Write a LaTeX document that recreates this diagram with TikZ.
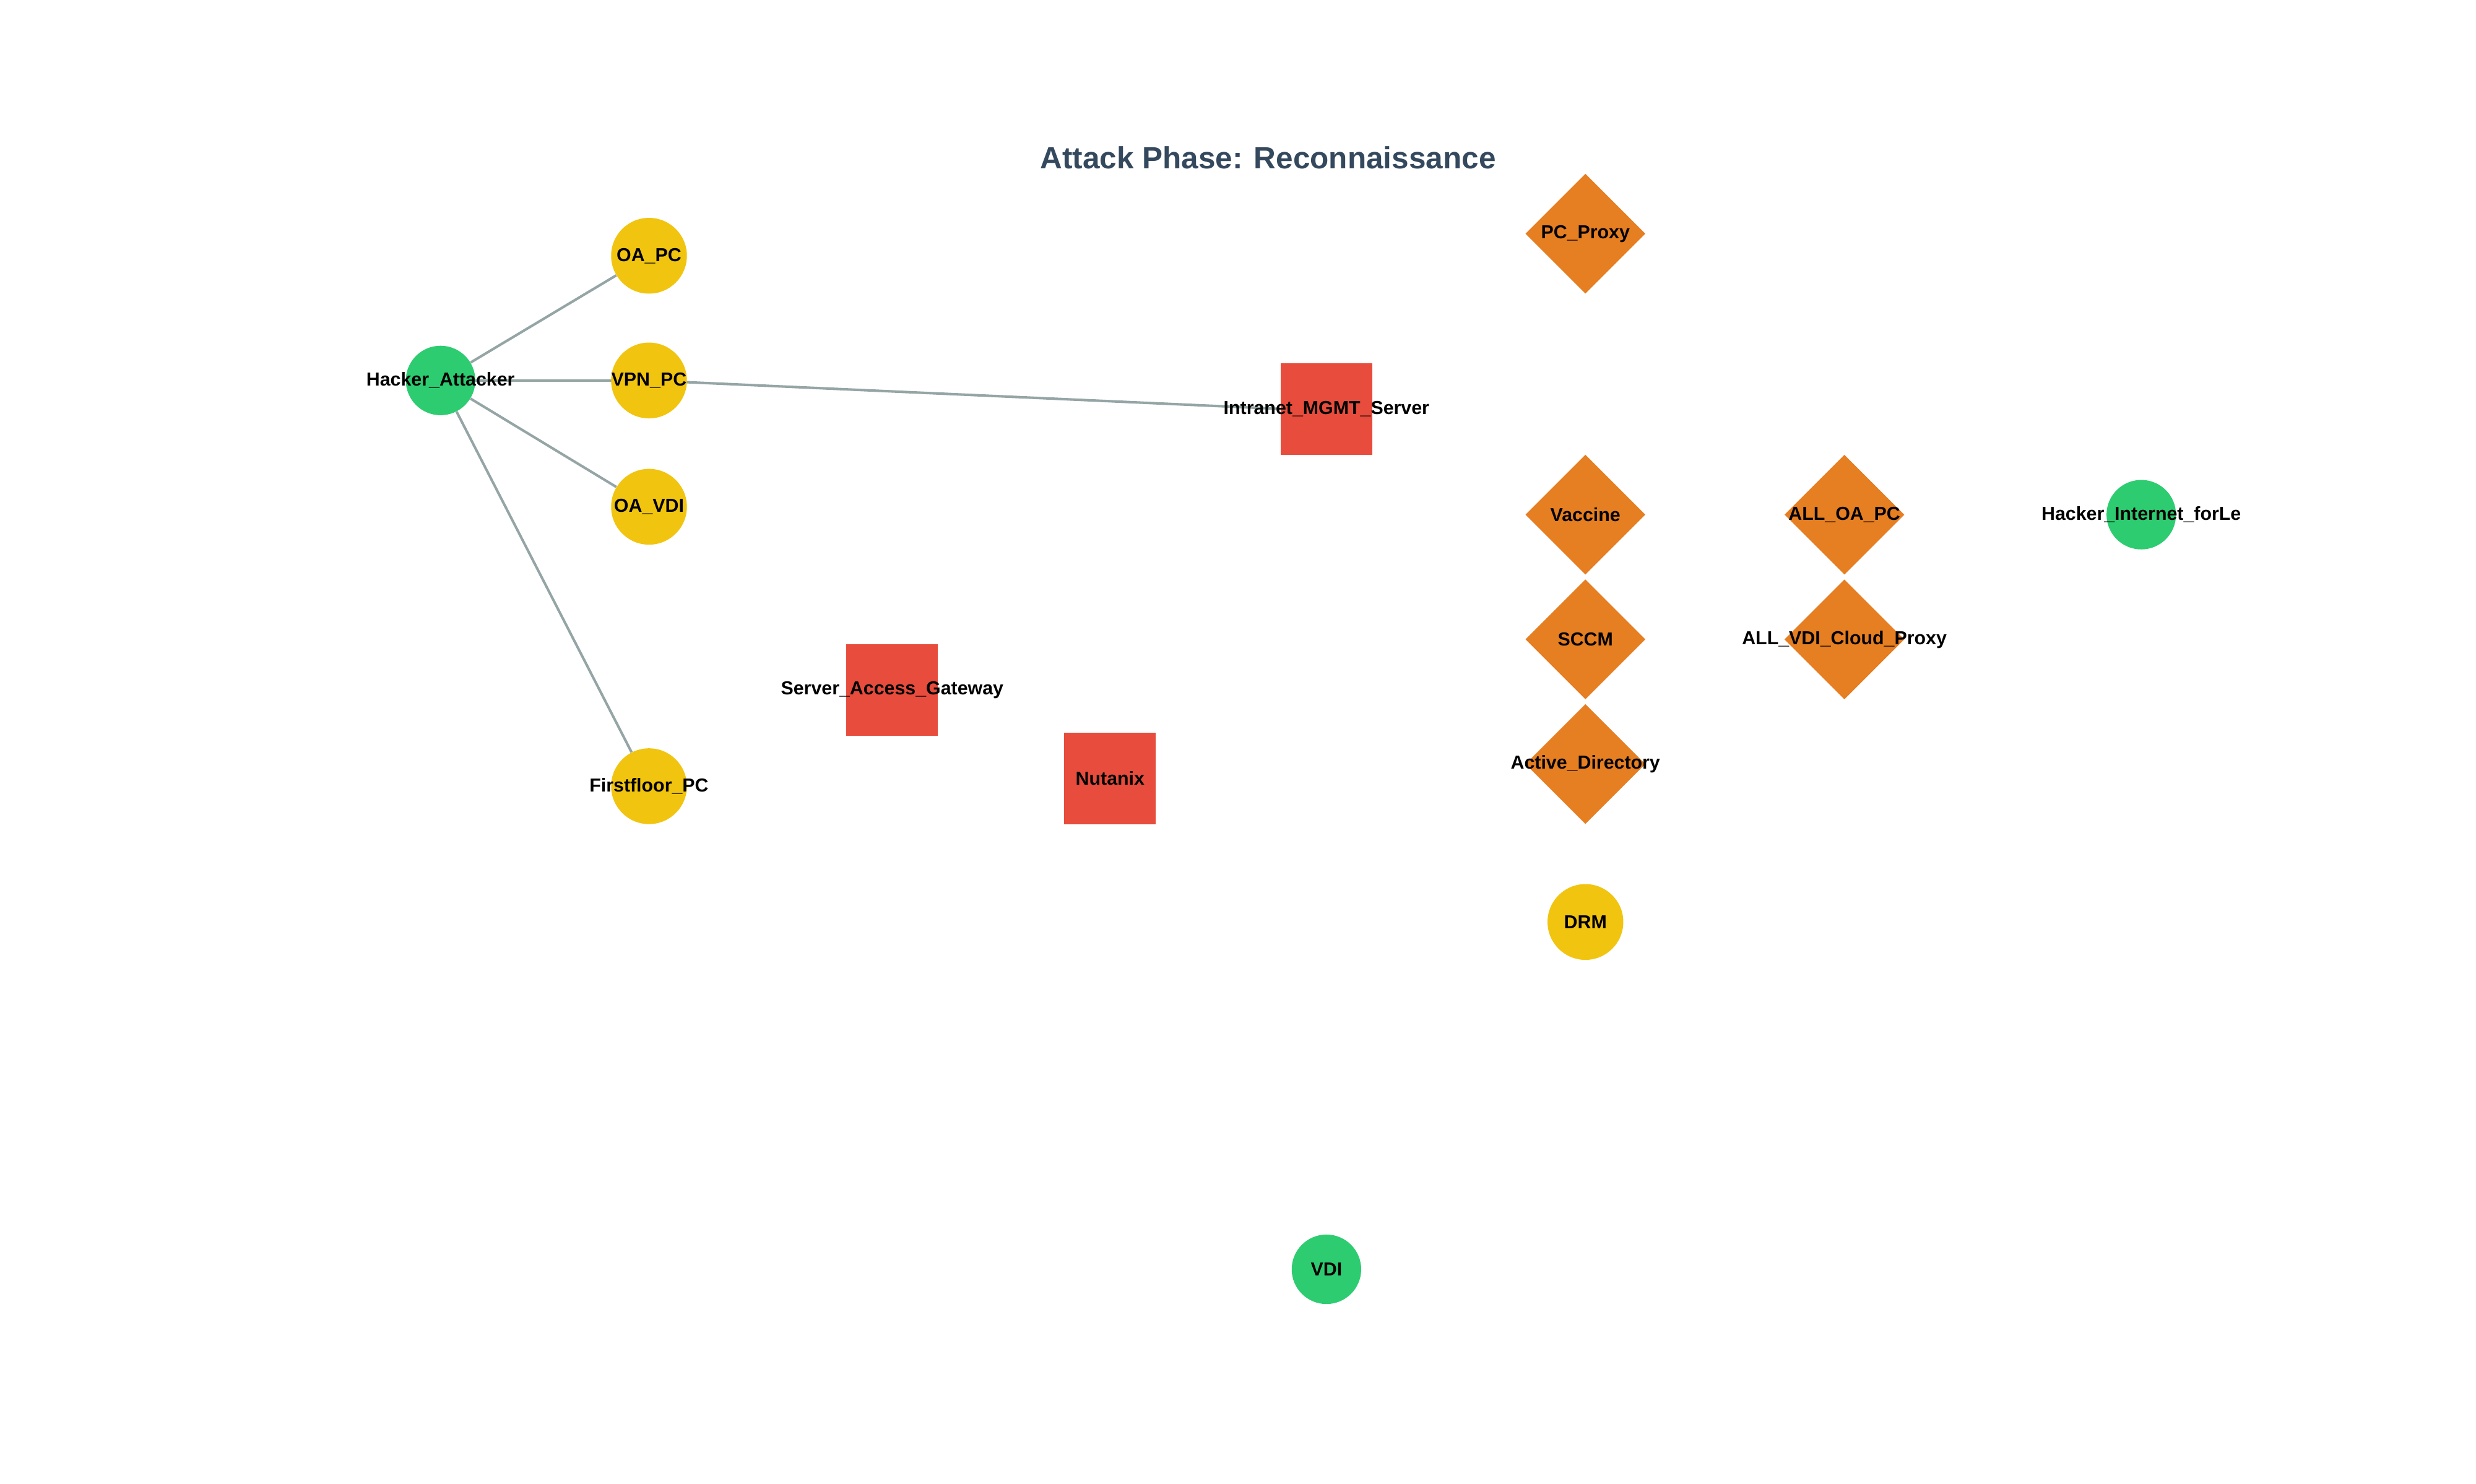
\documentclass[tikz,border=0pt]{standalone}
\usepackage{fontspec}
\setmainfont{Liberation Sans}
\usetikzlibrary{shapes.geometric,backgrounds}
\definecolor{cy}{HTML}{F1C40F}
\definecolor{cg}{HTML}{2ECC71}
\definecolor{cr}{HTML}{E74C3C}
\definecolor{co}{HTML}{E67E22}
\definecolor{ce}{HTML}{95A5A6}
\definecolor{ct}{HTML}{34495E}
\tikzset{
  lbl/.style={font=\bfseries\fontsize{11.9}{13}\selectfont, text=black},
  yc/.style={circle, fill=cy, minimum size=48pt, inner sep=0pt},
  gc/.style={circle, fill=cg, minimum size=44pt, inner sep=0pt},
  rs/.style={rectangle, fill=cr, minimum size=58pt, inner sep=0pt},
  od/.style={diamond, fill=co, minimum size=76pt, inner sep=0pt},
  edge/.style={draw=ce, line width=1.6pt},
}
\begin{document}
\begin{tikzpicture}[x=1pt,y=-1pt]
\useasboundingbox (0,0) rectangle (1568,940);
\node[font=\bfseries\fontsize{19.4}{22}\selectfont, text=ct] (title) at (803,100) {Attack Phase: Reconnaissance};
\node[yc] (oapc) at (411,162) {};
\node[gc] (hack) at (279,241) {};
\node[yc] (vpn) at (411,241) {};
\node[yc] (oavdi) at (411,321) {};
\node[yc] (ff) at (411,498) {};
\node[rs] (intra) at (840,259) {};
\node[rs] (sag) at (565,437) {};
\node[rs] (nut) at (703,493) {};
\node[od] (pcp) at (1004,148) {};
\node[od] (vac) at (1004,326) {};
\node[od] (sccm) at (1004,405) {};
\node[od] (ad) at (1004,484) {};
\node[od] (alloa) at (1168,326) {};
\node[od] (allvdi) at (1168,405) {};
\node[gc] (hi) at (1356,326) {};
\node[yc] (drm) at (1004,584) {};
\node[gc] (vdi) at (840,804) {};
\begin{scope}[on background layer]
\draw[edge] (hack) -- (oapc);
\draw[edge] (hack) -- (vpn);
\draw[edge] (hack.east) -- (vpn.center);
\draw[edge] (hack) -- (oavdi);
\draw[edge] (hack) -- (ff);
\draw[edge] (vpn.center) -- (intra.west);
\end{scope}
\foreach \n/\t in {oapc/OA\_PC, hack/Hacker\_Attacker, vpn/VPN\_PC, oavdi/OA\_VDI, ff/Firstfloor\_PC, intra/Intranet\_MGMT\_Server, sag/Server\_Access\_Gateway, nut/Nutanix, pcp/PC\_Proxy, vac/Vaccine, sccm/SCCM, ad/Active\_Directory, alloa/ALL\_OA\_PC, allvdi/ALL\_VDI\_Cloud\_Proxy, hi/Hacker\_Internet\_forLe, drm/DRM, vdi/VDI}
  \node[lbl] (\n-l) at (\n.center) {\t};
\end{tikzpicture}
\end{document}
